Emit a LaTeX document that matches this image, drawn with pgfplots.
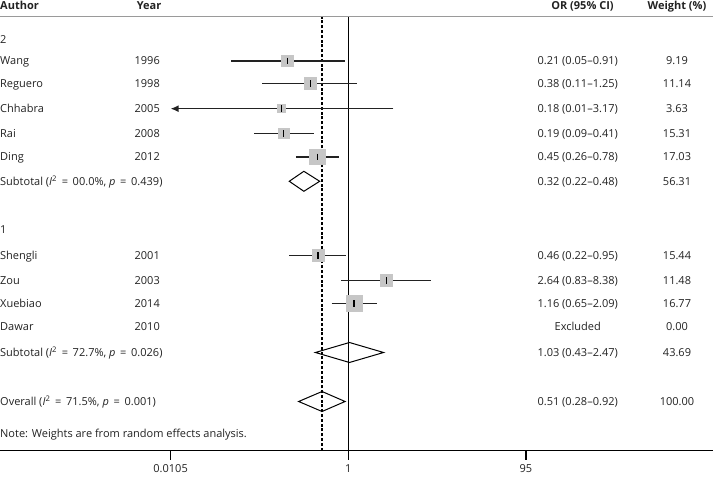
\documentclass[border=0pt]{standalone}
\usepackage{fontspec}
\setmainfont{Open Sans}
\usepackage{pgfplots}
\pgfplotsset{compat=1.18}
\usepackage{pgfplotstable}
\usetikzlibrary{arrows.meta}
\definecolor{boxgray}{HTML}{C6C6C6}
\definecolor{hdrgray}{HTML}{9A9A9A}
\definecolor{txt}{HTML}{222222}

% studies: y (px from bottom), OR, box side (px)
\pgfplotstableread{
y      or    s
416.0  0.21  12
393.3  0.38  12
368.3  0.18  8
343.5  0.19  11
320.0  0.45  16
221.5  0.46  12
196.5  2.64  12
173.7  1.16  16
}\studies

\newcommand{\eq}{\,=\,}
\begin{document}
\begin{tikzpicture}[x=1bp,y=1bp,
  lab/.style={inner sep=0pt, text height=7.8bp, text depth=0pt, text=txt, font=\fontsize{11bp}{13bp}\selectfont}]
\begin{axis}[
  at={(0,26.3bp)}, anchor=south west,
  scale only axis, width=713bp, height=450.7bp,
  xmode=log, xmin=1.322e-4, xmax=11514,
  ymin=26.3, ymax=477,
  axis x line*=bottom, axis y line=none,
  x axis line style={-, line width=1.3bp, black},
  xtick={0.0105,1,95}, xticklabels={0.0105,1,95},
  minor xtick={}, xminorticks=false,
  major tick length=0pt,
  xticklabel style={font=\fontsize{11bp}{13bp}\selectfont, text=txt, inner sep=0pt, yshift=-13.5bp},
  clip=false,
]
% weight boxes (drawn first, lines pass over them)
\addplot[scatter, only marks, mark=square*,
  mark options={draw=boxgray, fill=boxgray, line width=0pt},
  scatter/use mapped color={draw=boxgray, fill=boxgray},
  visualization depends on={\thisrow{s}/2 \as \hs},
  scatter/@pre marker code/.append style={/tikz/mark size=\hs}]
  table[x=or, y=y] {\studies};

% reference lines
\addplot[black, line width=1.4bp] coordinates {(1,26.3) (1,460.5)};
\addplot[black, line width=1.3bp, dash pattern=on 3bp off 1.8bp] coordinates {(0.51,26.3) (0.51,460.5)};
% header rule
\addplot[hdrgray, line width=1.5bp] coordinates {(1.322e-4,460.5) (11514,460.5)};
% tick marks
\addplot[black, line width=1.3bp] coordinates {(0.0105,26.3) (0.0105,17)};
\addplot[black, line width=1.3bp] coordinates {(1,26.3) (1,17)};
\addplot[black, line width=1.3bp] coordinates {(95,26.3) (95,17)};

% confidence intervals
\addplot[txt, line width=1.3bp] coordinates {(0.05,416.0) (0.91,416.0)};
\addplot[txt, line width=1.3bp] coordinates {(0.11,393.3) (1.25,393.3)};
\addplot[txt, line width=1.3bp, -{Latex[length=8bp,width=7bp]}] coordinates {(3.17,368.3) (0.0105,368.3)};
\addplot[txt, line width=1.3bp] coordinates {(0.09,343.5) (0.41,343.5)};
\addplot[txt, line width=1.3bp] coordinates {(0.26,320.0) (0.78,320.0)};
\addplot[txt, line width=1.3bp] coordinates {(0.22,221.5) (0.95,221.5)};
\addplot[txt, line width=1.3bp] coordinates {(0.83,196.5) (8.38,196.5)};
\addplot[txt, line width=1.3bp] coordinates {(0.65,173.7) (2.09,173.7)};

% point estimates
\addplot[only marks, mark=|, mark size=3.3, mark options={line width=1.3bp, draw=black}]
  table[x=or, y=y] {\studies};

% pooled diamonds
\addplot[black, line width=1bp] coordinates {(0.22,295.7) (0.32,305.7) (0.48,295.7) (0.32,285.7)} -- cycle;
\addplot[black, line width=1bp] coordinates {(0.43,124.5) (1.03,134.5) (2.47,124.5) (1.03,114.5)} -- cycle;
\addplot[black, line width=1bp] coordinates {(0.28,75.5) (0.51,85.5) (0.92,75.5) (0.51,65.5)} -- cycle;
\end{axis}

% headers
\node[lab, anchor=west, font=\fontsize{11bp}{13bp}\selectfont\bfseries] at (0,471.3) {Author};
\node[lab, anchor=west, font=\fontsize{11bp}{13bp}\selectfont\bfseries] at (136.7,471.3) {Year};
\node[lab, anchor=center, font=\fontsize{11bp}{13bp}\selectfont\bfseries] at (582.5,471.3) {OR (95\% CI)};
\node[lab, anchor=center, font=\fontsize{11bp}{13bp}\selectfont\bfseries] at (677,471.3) {Weight (\%)};

% group labels and rows
\foreach \yy/\au/\yr/\ci/\wt in {
  437.0/2/{}/{}/{},
  416.0/Wang/1996/0.21 (0.05--0.91)/9.19,
  393.3/Reguero/1998/0.38 (0.11--1.25)/11.14,
  368.3/Chhabra/2005/0.18 (0.01--3.17)/3.63,
  343.5/Rai/2008/0.19 (0.09--0.41)/15.31,
  320.0/Ding/2012/0.45 (0.26--0.78)/17.03,
  247.7/1/{}/{}/{},
  221.5/Shengli/2001/0.46 (0.22--0.95)/15.44,
  196.5/Zou/2003/2.64 (0.83--8.38)/11.48,
  173.7/Xuebiao/2014/1.16 (0.65--2.09)/16.77,
  150.3/Dawar/2010/Excluded/0.00}{
  \node[lab, anchor=west] at (0,\yy) {\au};
  \node[lab, anchor=east] at (160,\yy) {\yr};
  \node[lab, anchor=center] at (577.7,\yy) {\ci};
  \node[lab, anchor=center] at (677,\yy) {\wt};
}
\node[lab, anchor=west] at (0,295.7) {Subtotal (\textit{I}\textsuperscript{2} \eq{} 00.0\%, \textit{p} \eq{} 0.439)};
\node[lab, anchor=center] at (577.7,295.7) {0.32 (0.22--0.48)};
\node[lab, anchor=center] at (677,295.7) {56.31};
\node[lab, anchor=west] at (0,124.5) {Subtotal (\textit{I}\textsuperscript{2} \eq{} 72.7\%, \textit{p} \eq{} 0.026)};
\node[lab, anchor=center] at (577.7,124.5) {1.03 (0.43--2.47)};
\node[lab, anchor=center] at (677,124.5) {43.69};
\node[lab, anchor=west] at (0,75.5) {Overall (\textit{I}\textsuperscript{2} \eq{} 71.5\%, \textit{p} \eq{} 0.001)};
\node[lab, anchor=center] at (577.7,75.5) {0.51 (0.28--0.92)};
\node[lab, anchor=center] at (677,75.5) {100.00};
\node[lab, anchor=west] at (0,43.7) {Note: Weights are from random effects analysis.};

\pgfresetboundingbox
\path (0,0) rectangle (713,477);
\end{tikzpicture}
\end{document}
